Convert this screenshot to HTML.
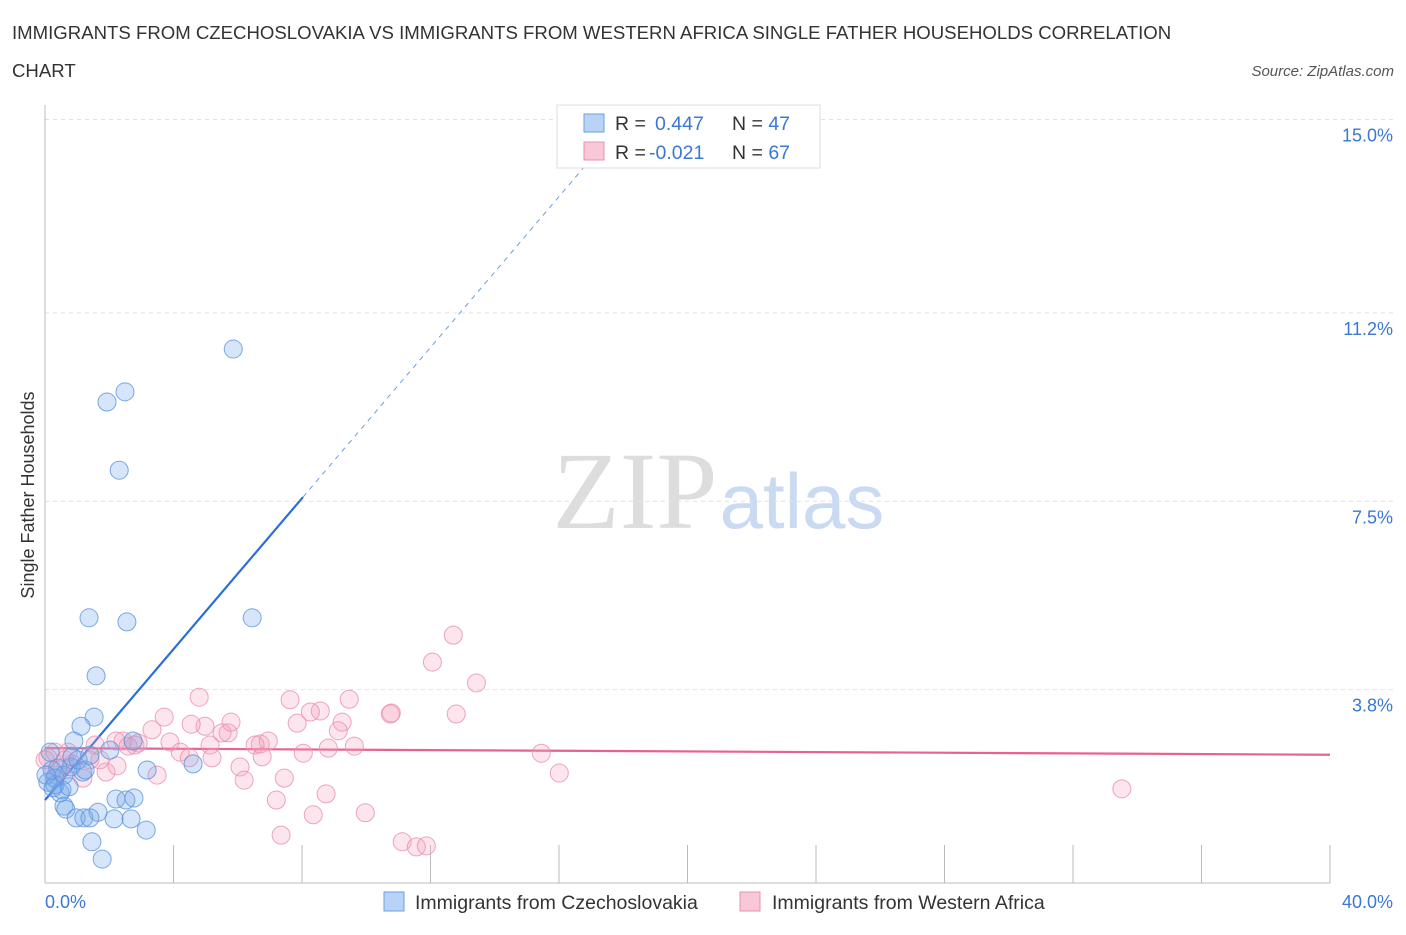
<!DOCTYPE html>
<html><head><meta charset="utf-8"><style>
body{margin:0;background:#fff;font-family:"Liberation Sans",sans-serif;}
</style></head><body>
<svg width="1406" height="930" xmlns="http://www.w3.org/2000/svg" font-family="Liberation Sans, sans-serif">
<text x="12" y="39" font-size="18.6" fill="#333">IMMIGRANTS FROM CZECHOSLOVAKIA VS IMMIGRANTS FROM WESTERN AFRICA SINGLE FATHER HOUSEHOLDS CORRELATION</text>
<text x="12" y="77" font-size="18.6" fill="#333">CHART</text>
<text x="1394" y="76" font-size="15" fill="#555" font-style="italic" text-anchor="end">Source: ZipAtlas.com</text>
<text x="635" y="528" font-size="110" fill="#ddd" font-family="Liberation Serif, serif" text-anchor="middle">ZIP</text>
<text x="802" y="528" font-size="78" fill="#c9daf2" text-anchor="middle">atlas</text>
<g id="grid"></g>
<line x1="45" y1="105" x2="45" y2="883" stroke="#bbb"/>
<line x1="45" y1="883" x2="1330" y2="883" stroke="#bbb"/>
<g id="xt"></g>
<text x="34" y="495" font-size="18" fill="#333" text-anchor="middle" transform="rotate(-90 34 495)">Single Father Households</text>
<text x="45" y="908" font-size="18" fill="#3a78d4">0.0%</text>
<text x="1393" y="908" font-size="18" fill="#3a78d4" text-anchor="end">40.0%</text>
<g id="lines"></g>
<g id="pts"></g>
<g>
<rect x="557" y="105" width="263" height="63" fill="#fff" stroke="#ddd"/>
<rect x="584" y="114" width="20" height="18" fill="#b8d3f5" stroke="#6aa0e0"/>
<rect x="584" y="142" width="20" height="18" fill="#f9c8d8" stroke="#e890ae"/>
<text x="615" y="130" font-size="19.5" fill="#333">R = <tspan x="655" fill="#3a78d4">0.447</tspan><tspan x="732">N = </tspan><tspan fill="#3a78d4">47</tspan></text>
<text x="615" y="159" font-size="19.5" fill="#333">R = <tspan x="649" fill="#3a78d4">-0.021</tspan><tspan x="732">N = </tspan><tspan fill="#3a78d4">67</tspan></text>
</g>
<g>
<rect x="384" y="892" width="20" height="19" fill="#b8d3f5" stroke="#6aa0e0"/>
<text x="415" y="909" font-size="19.5" fill="#333">Immigrants from Czechoslovakia</text>
<rect x="740" y="892" width="20" height="19" fill="#f9c8d8" stroke="#e890ae"/>
<text x="772" y="909" font-size="19.5" fill="#333">Immigrants from Western Africa</text>
</g>
</svg>
<script>
const blueX=[5.86,2.49,1.93,2.31,1.37,2.55,6.45,1.59,1.53,1.12,0.90,2.02,2.74,4.61,3.18,0.16,0.22,0.40,0.59,0.81,1.18,0.84,0.53,0.31,0.47,0.75,0.09,1.25,0.59,0.65,2.21,2.52,2.77,1.65,0.97,1.21,1.40,2.15,2.68,3.15,1.46,1.78,0.31,0.03,1.03,1.40,0.25];
const blueY=[10.49,9.65,9.45,8.11,5.21,5.13,5.21,4.07,3.26,3.08,2.79,2.61,2.79,2.34,2.22,2.57,2.22,2.26,2.12,2.28,2.18,2.48,1.83,1.93,1.77,1.89,1.98,2.22,1.51,1.45,1.65,1.63,1.67,1.39,1.28,1.28,1.28,1.26,1.26,1.04,0.81,0.47,2.06,2.12,2.42,2.51,1.87];
const pinkX=[4.80,3.71,3.33,2.43,2.21,2.90,3.89,4.21,5.14,5.70,5.51,4.98,4.55,5.79,7.63,8.57,8.26,7.85,9.25,9.13,9.47,10.78,10.75,12.71,12.06,13.43,12.80,8.82,8.04,6.70,6.95,6.54,9.63,5.20,4.49,6.07,6.76,7.45,6.20,3.49,1.90,2.24,1.18,7.20,8.75,8.35,9.97,7.35,11.12,11.56,11.87,15.45,16.01,33.52,0.31,0.09,0.62,0.84,0.47,1.40,1.71,2.59,2.80,0.0,0.34,1.56,0.72];
const pinkY=[3.65,3.26,3.01,2.79,2.79,2.75,2.77,2.57,2.71,2.95,2.95,3.08,3.12,3.16,3.60,3.38,3.36,3.14,3.16,2.99,3.61,3.34,3.32,4.87,4.34,3.93,3.32,2.65,2.55,2.73,2.79,2.71,2.69,2.46,2.46,2.28,2.48,2.06,2.02,2.12,2.18,2.30,2.06,1.63,1.75,1.34,1.38,0.94,0.81,0.71,0.73,2.55,2.16,1.85,2.57,2.46,2.42,2.34,2.22,2.42,2.42,2.69,2.71,2.42,2.12,2.71,2.57];
const yTicks=[3.8,7.5,11.2,15.0];
const yTickLabels=["3.8%","7.5%","11.2%","15.0%"];
const xTicks=[0,4,8,12,16,20,24,28,32,36,40];
const blueTrend=[1.63,0.741];
const pinkTrend=[2.65,2.52];
const NS="http://www.w3.org/2000/svg";
const X=v=>45+v*32.125, Y=v=>883-v*50.9;
function mk(tag,attrs,parent){const e=document.createElementNS(NS,tag);for(const k in attrs)e.setAttribute(k,attrs[k]);parent.appendChild(e);return e;}
const grid=document.getElementById('grid');
yTicks.forEach((t,i)=>{
 const l=mk('line',{x1:45,x2:1395,y1:Y(t),y2:Y(t),stroke:'#e2e2e2','stroke-dasharray':'4,4'},grid);
 
 
 const tx=mk('text',{x:1393,y:Y(t)+22,'font-size':18,fill:'#3a78d4','text-anchor':'end'},grid);
 tx.textContent=yTickLabels[i];
 
 
});
const xt=document.getElementById('xt');
xTicks.forEach(t=>{
 const l=mk('line',{x1:X(t),x2:X(t),y1:845,y2:883,stroke:'#bbb'},xt);
 
 
});
const lines=document.getElementById('lines');
const bx2=8.03;
let b=mk('line',{x1:X(0),y1:Y(blueTrend[0]),x2:X(bx2),y2:Y(blueTrend[0]+blueTrend[1]*bx2),stroke:'#2a6fd6','stroke-width':2.2},lines);


const bx3=16.8;
b=mk('line',{x1:X(bx2),y1:Y(blueTrend[0]+blueTrend[1]*bx2),x2:X(bx3),y2:Y(blueTrend[0]+blueTrend[1]*bx3),stroke:'#6a9ee0','stroke-width':1,'stroke-dasharray':'5,5'},lines);


const p=mk('line',{x1:X(0),y1:Y(pinkTrend[0]),x2:X(40),y2:Y(pinkTrend[1]),stroke:'#e8628e','stroke-width':2.2},lines);


const pts=document.getElementById('pts');
pinkX.forEach((x,i)=>{
 const c=mk('circle',{cx:X(x),cy:Y(pinkY[i]),r:9,fill:'rgba(244,160,190,0.28)',stroke:'rgba(234,143,174,0.8)','stroke-width':1},pts);
 
 
});
blueX.forEach((x,i)=>{
 const c=mk('circle',{cx:X(x),cy:Y(blueY[i]),r:9,fill:'rgba(120,170,235,0.3)',stroke:'rgba(91,149,222,0.8)','stroke-width':1},pts);
 
 
});
</script>
</body></html>
